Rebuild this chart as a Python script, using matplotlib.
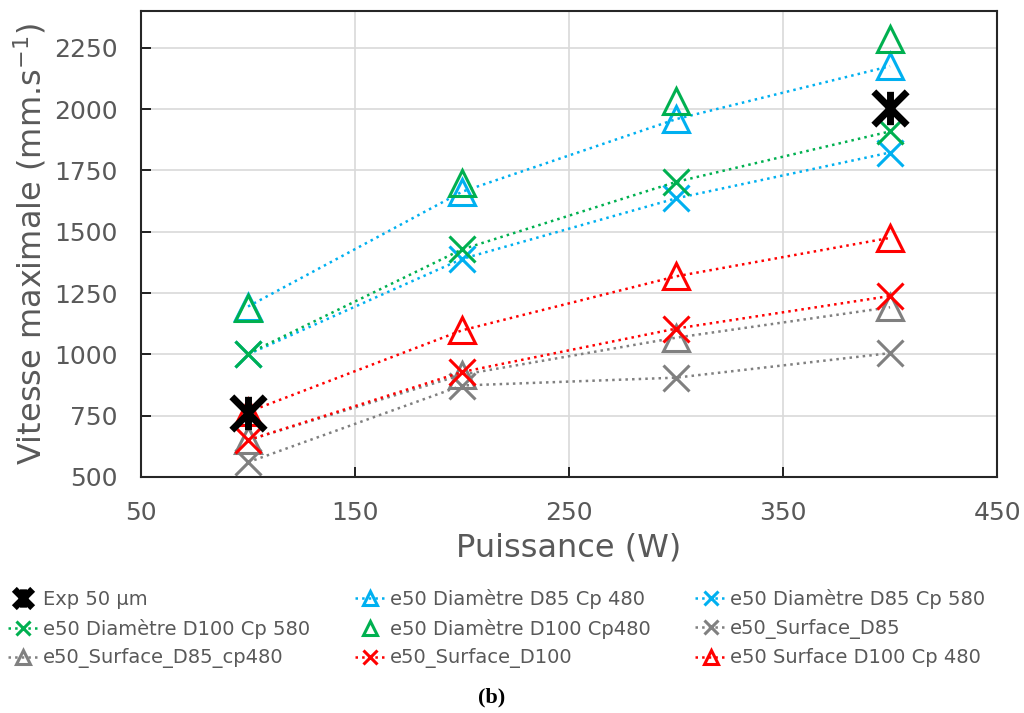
import matplotlib.pyplot as plt
from matplotlib.path import Path

# puissance (W)
puissance = [100, 200, 300, 400]
puissance_exp = [100, 400]

# vitesse maximale (mm/s)
exp_50 = [760, 2005]
d85_cp480 = [1195, 1663, 1959, 2175]
d85_cp580 = [1000, 1389, 1636, 1823]
d100_cp580 = [1003, 1428, 1703, 1909]
d100_cp480 = [1190, 1700, 2032, 2285]
surf_d85 = [560, 873, 905, 1005]
surf_d85_cp480 = [650, 917, 1068, 1192]
surf_d100 = [650, 928, 1105, 1238]
surf_d100_cp480 = [765, 1098, 1318, 1475]

bleu = '#00B0F0'
vert = '#00B050'
gris = '#808080'
rouge = '#FF0000'
txt = '#595959'

# marqueur "etoile" Excel : X + barre verticale
etoile = Path([(0, -1), (0, 1), (-1, -1), (1, 1), (-1, 1), (1, -1)],
              [Path.MOVETO, Path.LINETO, Path.MOVETO, Path.LINETO,
               Path.MOVETO, Path.LINETO])

plt.rcParams['font.family'] = ['DejaVu Sans']

fig = plt.figure(figsize=(10.24, 7.13), dpi=100)
ax = fig.add_axes([0.1377, 0.331, 0.836, 0.6536])

ms = 19
mew = 2.2
lw = 1.8

ax.plot(puissance, d85_cp480, ls=':', lw=lw, color=bleu, marker='^', ms=ms,
        mfc='none', mec=bleu, mew=mew, label='e50 Diamètre D85 Cp 480')
ax.plot(puissance, d85_cp580, ls=':', lw=lw, color=bleu, marker='x', ms=ms,
        mec=bleu, mew=mew, label='e50 Diamètre D85 Cp 580')
ax.plot(puissance, d100_cp580, ls=':', lw=lw, color=vert, marker='x', ms=ms,
        mec=vert, mew=mew, label='e50 Diamètre D100 Cp 580')
ax.plot(puissance, d100_cp480, ls='none', color=vert, marker='^', ms=ms,
        mfc='none', mec=vert, mew=mew, label='e50 Diamètre D100 Cp480')
ax.plot(puissance, surf_d85, ls=':', lw=lw, color=gris, marker='x', ms=ms,
        mec=gris, mew=mew, label='e50_Surface_D85')
ax.plot(puissance, surf_d85_cp480, ls=':', lw=lw, color=gris, marker='^', ms=ms,
        mfc='none', mec=gris, mew=mew, label='e50_Surface_D85_cp480')
ax.plot(puissance, surf_d100, ls=':', lw=lw, color=rouge, marker='x', ms=ms,
        mec=rouge, mew=mew, label='e50_Surface_D100')
ax.plot(puissance, surf_d100_cp480, ls=':', lw=lw, color=rouge, marker='^', ms=ms,
        mfc='none', mec=rouge, mew=mew, label='e50 Surface D100 Cp 480')
ax.plot(puissance_exp, exp_50, ls='none', marker=etoile, ms=24, mew=5,
        color='black', zorder=5, label='Exp 50 µm')

ax.set_xlim(50, 450)
ax.set_ylim(500, 2400)
ax.set_xticks([50, 150, 250, 350, 450])
ax.set_yticks(range(500, 2251, 250))
ax.grid(True, color='#d9d9d9', lw=1.2)
ax.set_axisbelow(True)
ax.tick_params(direction='in', length=7, width=1.2, labelsize=18,
               labelcolor=txt, pad=17)
for s in ax.spines.values():
    s.set_linewidth(1.5)
    s.set_color('#262626')

ax.set_xlabel('Puissance (W)', fontsize=23, color=txt, labelpad=6)
ax.set_ylabel('Vitesse maximale (mm.s$^{\\mathregular{-1}}$)', fontsize=23,
              color=txt, labelpad=4)

# legende en lignes (comme Excel) : ncol remplit par colonnes
h, l = ax.get_legend_handles_labels()
ordre = [8, 2, 5, 0, 3, 6, 1, 4, 7]
leg = fig.legend([h[i] for i in ordre], [l[i] for i in ordre], ncol=3,
                 loc='upper left', bbox_to_anchor=(0.0, 0.185),
                 frameon=False, fontsize=14, handlelength=1.6,
                 handletextpad=0.2, columnspacing=2.3, labelspacing=0.5,
                 markerscale=0.55, borderaxespad=0)
for t in leg.get_texts():
    t.set_color(txt)

fig.text(0.48, 0.015, '(b)', fontsize=16, fontweight='bold',
         family='Liberation Serif', ha='center')

fig.savefig('out.png', dpi=100)
